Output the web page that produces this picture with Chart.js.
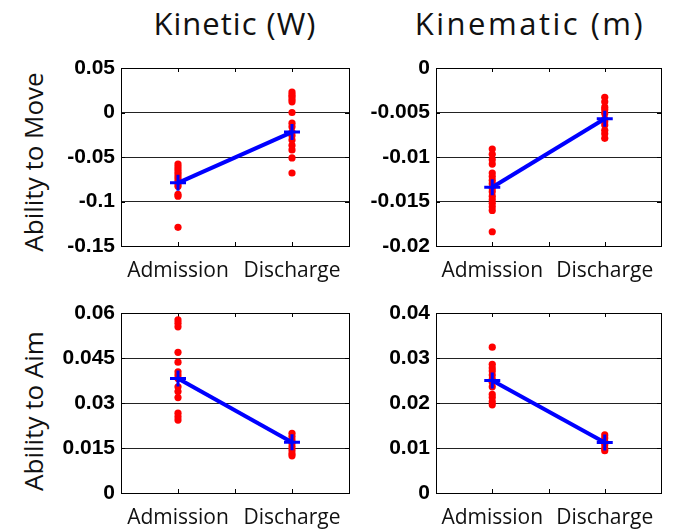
<!DOCTYPE html>
<html>
<head>
<meta charset="utf-8">
<script src="https://cdn.jsdelivr.net/npm/chart.js@4/dist/chart.umd.min.js"></script>
<style>
  body { margin: 0; background: #fff; }
  #wrap { position: relative; width: 686px; height: 531px; overflow: hidden; font-family: "Open Sans", sans-serif; }
  canvas { position: absolute; }
  .colTitle { position: absolute; top: 2px; font-size: 31px; color: #111; white-space: nowrap; transform: translateX(-50%); letter-spacing: 1px; }
  .rowTitle { position: absolute; font-size: 26px; color: #111; white-space: nowrap; transform: translate(-50%, -50%) rotate(-90deg); }
</style>
</head>
<body>
<div id="wrap">
  <div class="colTitle" style="left:235px">Kinetic (W)</div>
  <div class="colTitle" style="left:530px; letter-spacing:2.5px">Kinematic (m)</div>
  <div class="rowTitle" style="left:33px; top:162px">Ability to Move</div>
  <div class="rowTitle" style="left:33px; top:411px">Ability to Aim</div>
  <canvas id="c1" width="375" height="232" style="left:0; top:56px"></canvas>
  <canvas id="c2" width="330" height="232" style="left:356px; top:56px"></canvas>
  <canvas id="c3" width="375" height="230" style="left:0; top:301px"></canvas>
  <canvas id="c4" width="330" height="230" style="left:356px; top:301px"></canvas>
</div>
<script>
// categorias del eje x
const xTickValues = [1, 1.5, 2]
const xLabels = ["Admission", "", "Discharge"]

// Ability to Move - Kinetic (W)
const moveKinAdm = [-0.058, -0.061, -0.064, -0.067, -0.070, -0.073, -0.076, -0.080, -0.083, -0.092, -0.094, -0.129]
const moveKinDis = [0.023, 0.020, 0.018, 0.015, 0.012, 0.000, -0.012, -0.016, -0.022, -0.026, -0.031, -0.037, -0.042, -0.051, -0.068]
const moveKinMean = [-0.079, -0.022]
const moveKinTicks = [-0.15, -0.1, -0.05, 0, 0.05]
const moveKinLabels = ["-0.15", "-0.1", "-0.05", "0", "0.05"]

// Ability to Move - Kinematic (m)
const moveKmAdm = [-0.0091, -0.0097, -0.0103, -0.0108, -0.0118, -0.0122, -0.0126, -0.0130, -0.0135, -0.0139, -0.0144, -0.0148, -0.0152, -0.0156, -0.0160, -0.0184]
const moveKmDis = [-0.0033, -0.0038, -0.0044, -0.0047, -0.0051, -0.0057, -0.0060, -0.0064, -0.0070, -0.0074, -0.0079]
const moveKmMean = [-0.0134, -0.0057]
const moveKmTicks = [-0.02, -0.015, -0.01, -0.005, 0]
const moveKmLabels = ["-0.02", "-0.015", "-0.01", "-0.005", "0"]

// Ability to Aim - Kinetic (W)
const aimKinAdm = [0.0577, 0.0566, 0.0554, 0.0469, 0.0436, 0.0404, 0.0393, 0.0382, 0.0354, 0.0338, 0.0318, 0.0266, 0.0254, 0.0243]
const aimKinDis = [0.0199, 0.0188, 0.0177, 0.0166, 0.0154, 0.0143, 0.0132, 0.0124]
const aimKinMean = [0.0382, 0.0169]
const aimKinTicks = [0, 0.015, 0.03, 0.045, 0.06]
const aimKinLabels = ["0", "0.015", "0.03", "0.045", "0.06"]

// Ability to Aim - Kinematic (m)
const aimKmAdm = [0.0324, 0.0286, 0.0278, 0.0271, 0.0262, 0.0253, 0.0246, 0.0236, 0.0219, 0.0212, 0.0203, 0.0196]
const aimKmDis = [0.0129, 0.0122, 0.0114, 0.0107, 0.0099, 0.0094]
const aimKmMean = [0.0250, 0.0112]
const aimKmTicks = [0, 0.01, 0.02, 0.03, 0.04]
const aimKmLabels = ["0", "0.01", "0.02", "0.03", "0.04"]

// marco completo y marcas de tick hacia dentro
const framePlugin = {
  id: "frame",
  beforeDatasetsDraw(chart) {
    const { ctx, chartArea: a, scales } = chart
    ctx.save()
    ctx.strokeStyle = "#000"
    ctx.lineWidth = 1
    ctx.strokeRect(Math.round(a.left) + 0.5, Math.round(a.top) + 0.5, Math.round(a.right - a.left), Math.round(a.bottom - a.top))
    ctx.beginPath()
    scales.x.ticks.forEach((t) => {
      const px = Math.round(scales.x.getPixelForValue(t.value)) + 0.5
      ctx.moveTo(px, a.top); ctx.lineTo(px, a.top + 4)
      ctx.moveTo(px, a.bottom); ctx.lineTo(px, a.bottom - 4)
    })
    scales.y.ticks.forEach((t) => {
      const py = Math.round(scales.y.getPixelForValue(t.value)) + 0.5
      ctx.moveTo(a.left, py); ctx.lineTo(a.left + 4, py)
      ctx.moveTo(a.right, py); ctx.lineTo(a.right - 4, py)
    })
    ctx.stroke()
    ctx.restore()
  },
}

function puntos(x, vals) {
  return vals.map((v) => ({ x: x, y: v }))
}

function crearPanel(id, adm, dis, mean, ticks, labels, yWidth, xHeight, padRight) {
  new Chart(document.getElementById(id), {
    type: "scatter",
    data: {
      datasets: [
        {
          data: puntos(1, adm).concat(puntos(2, dis)),
          backgroundColor: "#ff0000",
          borderWidth: 0,
          pointRadius: 3.6,
          order: 2,
        },
        {
          data: [{ x: 1, y: mean[0] }, { x: 2, y: mean[1] }],
          showLine: true,
          borderColor: "#0000ff",
          borderWidth: 4,
          pointStyle: "cross",
          pointRadius: 8,
          pointBorderWidth: 3,
          pointBorderColor: "#0000ff",
          order: 1,
        },
      ],
    },
    options: {
      responsive: false,
      animation: false,
      devicePixelRatio: 1,
      layout: { padding: { top: 12, right: padRight, left: 0, bottom: 0 } },
      plugins: { legend: { display: false }, tooltip: { enabled: false } },
      scales: {
        x: {
          type: "linear",
          min: 0.5,
          max: 2.5,
          afterBuildTicks: (s) => { s.ticks = xTickValues.map((v) => ({ value: v })) },
          afterFit: (s) => { s.height = xHeight; s.paddingLeft = 0; s.paddingRight = 0 },
          grid: { display: false, drawTicks: false },
          border: { display: false },
          ticks: {
            autoSkip: false,
            maxRotation: 0,
            padding: 12,
            color: "#111",
            font: { family: "Open Sans", size: 21 },
            callback: (v, i) => xLabels[i],
          },
        },
        y: {
          min: ticks[0],
          max: ticks[ticks.length - 1],
          afterBuildTicks: (s) => { s.ticks = ticks.map((v) => ({ value: v })) },
          afterFit: (s) => { s.width = yWidth; s.paddingTop = 0; s.paddingBottom = 0 },
          grid: {
            drawTicks: false,
            color: (c) => (c.index === 0 || c.index === ticks.length - 1 ? "rgba(0,0,0,0)" : "#222"),
            lineWidth: 1,
          },
          border: { display: false },
          ticks: {
            autoSkip: false,
            padding: 6,
            color: "#000",
            font: { family: "Liberation Sans", size: 21, weight: "bold" },
            callback: (v, i) => labels[i],
          },
        },
      },
    },
    plugins: [framePlugin],
  })
}

crearPanel("c1", moveKinAdm, moveKinDis, moveKinMean, moveKinTicks, moveKinLabels, 121, 42, 26)
crearPanel("c2", moveKmAdm, moveKmDis, moveKmMean, moveKmTicks, moveKmLabels, 80, 42, 25)
crearPanel("c3", aimKinAdm, aimKinDis, aimKinMean, aimKinTicks, aimKinLabels, 121, 38, 26)
crearPanel("c4", aimKmAdm, aimKmDis, aimKmMean, aimKmTicks, aimKmLabels, 80, 38, 25)
</script>
</body>
</html>
